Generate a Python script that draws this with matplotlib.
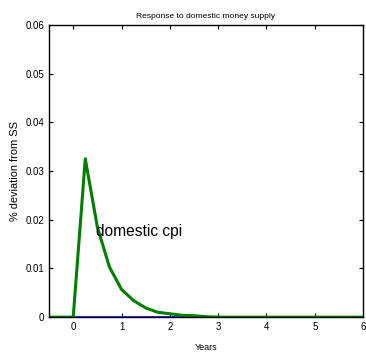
import matplotlib
matplotlib.use("Agg")
import matplotlib.pyplot as plt

# quarterly impulse responses (years)
years = [-0.5, -0.25, 0, 0.25, 0.5, 0.75, 1.0, 1.25, 1.5, 1.75, 2.0, 2.25, 2.5, 2.75,
         3.0, 3.25, 3.5, 3.75, 4.0, 4.25, 4.5, 4.75, 5.0, 5.25, 5.5, 5.75, 6.0]
cpi = [0, 0, 0, 0.0325, 0.0185, 0.0103, 0.0057, 0.0034, 0.0019, 0.0010, 0.0007, 0.0004,
       0.0003, 0.0001, 0, 0, 0, 0, 0, 0, 0, 0, 0, 0, 0, 0, 0]
money = [0] * len(years)

plt.rcParams['font.family'] = ['Liberation Sans', 'DejaVu Sans']

fig = plt.figure(figsize=(3.66, 3.6), dpi=100)
ax = fig.add_axes([0.134, 0.119, 0.858, 0.812])

ax.plot(years, money, color='blue', lw=1.2)
ax.plot(years, cpi, color='#008000', lw=2.2)
ax.text(0.47, 0.0176, 'domestic cpi', fontsize=11.2, va='center', ha='left')

ax.set_xlim(-0.5, 6)
ax.set_ylim(0, 0.06)
ax.set_xticks([0, 1, 2, 3, 4, 5, 6])
ax.set_yticks([0, 0.01, 0.02, 0.03, 0.04, 0.05, 0.06])
ax.set_yticklabels(['0', '0.01', '0.02', '0.03', '0.04', '0.05', '0.06'])
ax.tick_params(direction='in', top=True, right=True, labelsize=7, length=3, width=0.8)
for s in ax.spines.values():
    s.set_linewidth(1.0)

ax.set_title('Response to domestic money supply', fontsize=6.1, pad=5)
ax.set_xlabel('Years', fontsize=6.5, labelpad=8)
ax.set_ylabel('% deviation from SS', fontsize=7.9, labelpad=4)

fig.savefig('out.png', dpi=100)
